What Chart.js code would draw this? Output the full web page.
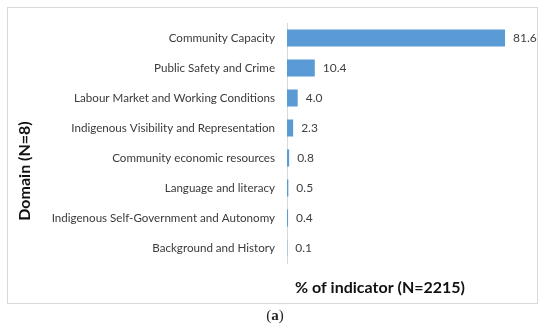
<!DOCTYPE html>
<html>
<head>
<meta charset="utf-8">
<script src="https://cdn.jsdelivr.net/npm/chart.js@4"></script>
<style>
  html, body { margin: 0; padding: 0; background: #fff; }
  #wrap { position: relative; width: 550px; height: 332px; overflow: hidden; }
  #frame { position: absolute; left: 7px; top: 7px; width: 531px; height: 297px; border: 1px solid #d9d9d9; box-sizing: border-box; }
  #cv { position: absolute; left: 0; top: 0; }
  #cap { position: absolute; left: 0; width: 550px; top: 307px; text-align: center; font-family: "Liberation Serif", serif; font-size: 15px; color: #222; }
  #cap b { font-weight: bold; }
</style>
</head>
<body>
<div id="wrap">
  <div id="frame"></div>
  <canvas id="cv" width="550" height="332"></canvas>
  <div id="cap">(<b>a</b>)</div>
</div>
<script>
const categories = [
  "Community Capacity",
  "Public Safety and Crime",
  "Labour Market and Working Conditions",
  "Indigenous Visibility and Representation",
  "Community economic resources",
  "Language and literacy",
  "Indigenous Self-Government and Autonomy",
  "Background and History"
];
const values = [81.6, 10.4, 4.0, 2.3, 0.8, 0.5, 0.4, 0.1];
const yTitle = "Domain (N=8)";
const xTitle = "% of indicator (N=2215)";
const FONT = "Lato, 'Open Sans', sans-serif";

const extras = {
  id: 'extras',
  afterDatasetsDraw(chart) {
    const ctx = chart.ctx;
    const meta = chart.getDatasetMeta(0);
    ctx.save();
    ctx.font = "12px " + FONT;
    ctx.fillStyle = "#404040";
    ctx.textAlign = "left";
    ctx.textBaseline = "middle";
    meta.data.forEach((bar, i) => {
      ctx.fillText(values[i].toFixed(1), bar.x + 8, bar.y);
    });
    // axis titles
    ctx.font = "bold 16px " + FONT;
    ctx.fillStyle = "#111";
    ctx.textAlign = "center";
    ctx.fillText(xTitle, 380, 288);
    ctx.translate(25, 171);
    ctx.rotate(-Math.PI / 2);
    ctx.fillText(yTitle, 0, 0);
    ctx.restore();
  }
};

new Chart(document.getElementById('cv'), {
  type: 'bar',
  data: {
    labels: categories,
    datasets: [{
      data: values,
      backgroundColor: '#5B9BD5',
      borderWidth: 0,
      barPercentage: 0.57,
      categoryPercentage: 1
    }]
  },
  options: {
    indexAxis: 'y',
    responsive: false,
    animation: false,
    events: [],
    layout: { padding: { left: 0, top: 23, bottom: 69, right: 22.5 } },
    plugins: { legend: { display: false }, tooltip: { enabled: false } },
    scales: {
      x: { display: false, min: 0, max: 90 },
      y: {
        grid: { display: false, drawTicks: false },
        border: { display: true, color: '#d9d9d9', width: 1 },
        ticks: { color: '#3a3a3a', font: { family: FONT, size: 11.6 }, padding: 12 },
        afterFit(scale) { scale.width = 287; }
      }
    }
  },
  plugins: [extras]
});
</script>
</body>
</html>
